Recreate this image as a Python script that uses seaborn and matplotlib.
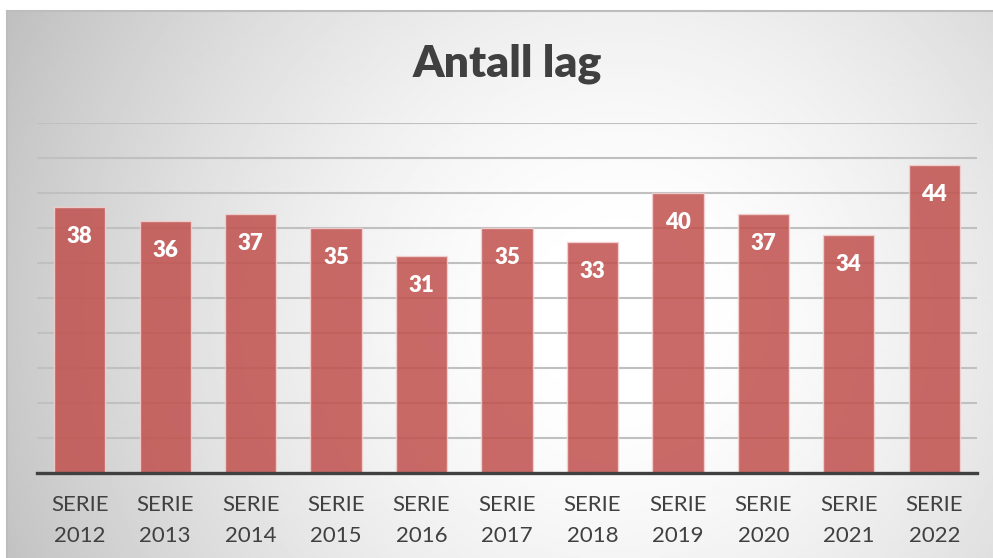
import numpy as np
import pandas as pd
import matplotlib.pyplot as plt
import seaborn as sns

# Data
series = ["SERIE\n2012", "SERIE\n2013", "SERIE\n2014", "SERIE\n2015", "SERIE\n2016", "SERIE\n2017",
          "SERIE\n2018", "SERIE\n2019", "SERIE\n2020", "SERIE\n2021", "SERIE\n2022"]
teams = [38, 36, 37, 35, 31, 35, 33, 40, 37, 34, 44]

df = pd.DataFrame({"serie": series, "lag": teams})

sns.set_style("white")
plt.rcParams['font.family'] = ['Lato', 'DejaVu Sans']

W, H = 993, 558
fig = plt.figure(figsize=(W / 100, H / 100), dpi=100)

# background panel with radial gradient
pw, ph = W - 7, H - 11
bg = fig.add_axes([7 / W, 0, pw / W, ph / H])
yy, xx = np.mgrid[0:ph:2, 0:pw:2]
cx, cy = 0.62 * pw, 0.55 * ph
d = np.sqrt((xx - cx) ** 2 + (yy - cy) ** 2)
d = d / d.max()
shade = 1.0 - 0.25 * np.clip((d - 0.08) / 0.92, 0, 1) ** 1.5
bg.imshow(shade, cmap="gray", vmin=0, vmax=1, aspect="auto", extent=[0, 1, 0, 1], origin="upper")
bg.set_xticks([])
bg.set_yticks([])
for side in ["right", "bottom"]:
    bg.spines[side].set_visible(False)
for side in ["top", "left"]:
    bg.spines[side].set_color("#bdbdbd")
    bg.spines[side].set_linewidth(1.5)

# main chart
ax = fig.add_axes([37 / W, (H - 473) / H, 940 / W, 350 / H])
ax.patch.set_alpha(0)
sns.barplot(data=df, x="serie", y="lag", color="#C0504D", alpha=0.85, width=0.6, saturation=1,
            edgecolor="#f4d4d3", linewidth=1.0, ax=ax, zorder=3)
ax.set_ylim(0, 50)
ax.set_xlim(-0.5, len(series) - 0.5)
ax.set_yticks(range(0, 51, 5))
ax.yaxis.grid(True, color="#c0c0c0", linewidth=1.5, zorder=0)
ax.set_axisbelow(True)
ax.tick_params(axis="y", length=0, labelleft=False)
ax.tick_params(axis="x", length=0, pad=16)
for lbl in ax.get_xticklabels():
    lbl.set_fontsize(16)
    lbl.set_color("#404040")
    lbl.set_linespacing(1.65)
ax.set_xlabel("")
ax.set_ylabel("")
for side in ["top", "left", "right"]:
    ax.spines[side].set_visible(False)
ax.spines["bottom"].set_color("#404040")
ax.spines["bottom"].set_linewidth(2.4)
ax.spines["bottom"].set_zorder(5)

for i, v in enumerate(teams):
    ax.text(i, v - 4.2, str(v), ha="center", va="center", color="white",
            fontsize=16, fontweight="heavy", zorder=4)

fig.text(507 / W, 1 - 64 / H, "Antall lag", ha="center", va="center",
         fontsize=32, fontweight="heavy", color="#404040")

fig.savefig("out.png", dpi=100)
